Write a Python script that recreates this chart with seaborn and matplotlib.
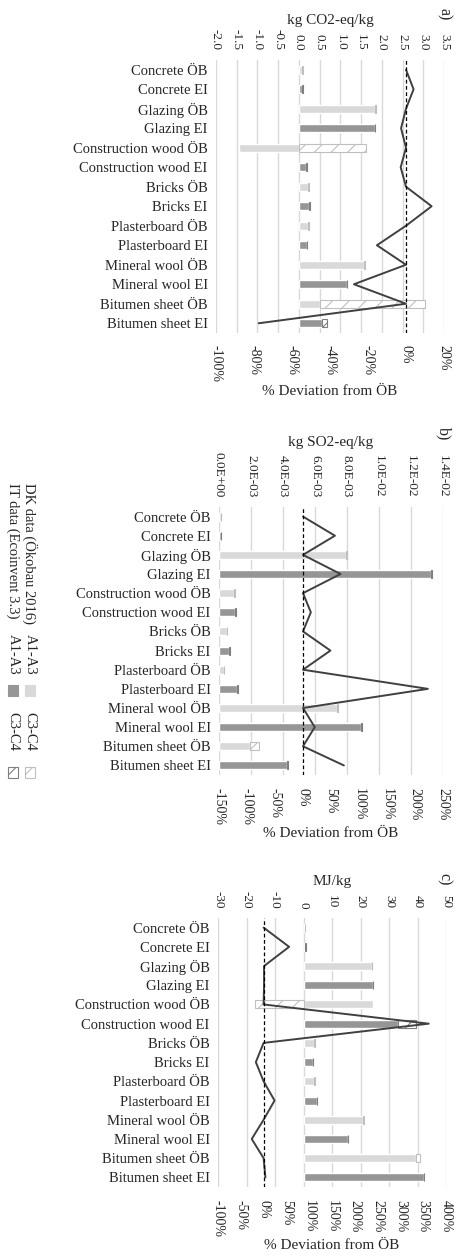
import numpy as np
import pandas as pd
import matplotlib
matplotlib.use("Agg")
import matplotlib.pyplot as plt
from matplotlib.patches import Rectangle
import seaborn as sns

# ---- data -------------------------------------------------------------
labels = ["Concrete ÖB", "Concrete EI", "Glazing ÖB", "Glazing EI",
          "Construction wood ÖB", "Construction wood EI", "Bricks ÖB", "Bricks EI",
          "Plasterboard ÖB", "Plasterboard EI", "Mineral wool ÖB", "Mineral wool EI",
          "Bitumen sheet ÖB", "Bitumen sheet EI"]
source = ["DK", "IT"] * 7

# a) GWP, kg CO2-eq/kg
gwp_a13 = [0.08, 0.08, 1.84, 1.83, -1.45, 0.18, 0.23, 0.25, 0.23, 0.19, 1.57, 1.15, 0.51, 0.55]
gwp_c34 = [0.01, 0.01, 0.03, 0.01, 1.63, 0.01, 0.01, 0.01, 0.01, 0.01, 0.02, 0.01, 2.52, 0.12]
gwp_dev = [0, 4, 0, -2.6, 0, -2.8, 0, 13.5, 0, -15.3, 0, -27.4, 0, -77.5]

# b) AP, kg SO2-eq/kg
ap_a13 = [0.10e-3, 0.14e-3, 7.92e-3, 13.25e-3, 0.96e-3, 0.98e-3, 0.48e-3, 0.64e-3,
          0.33e-3, 1.12e-3, 7.40e-3, 8.90e-3, 1.93e-3, 4.25e-3]
ap_c34 = [0.01e-3, 0.01e-3, 0.05e-3, 0.05e-3, 0.01e-3, 0.08e-3, 0.01e-3, 0.05e-3,
          0.01e-3, 0.05e-3, 0.05e-3, 0.05e-3, 0.58e-3, 0.05e-3]
ap_dev = [0, 57, 0, 67, 0, 14, 0, 49, 0, 223, 0, 21, 0, 73]

# c) PED, MJ/kg
ped_a13 = [0.5, 0.7, 24.0, 24.5, 24.4, 33.3, 3.8, 3.2, 3.8, 4.6, 21.0, 15.5, 39.4, 42.4]
ped_c34 = [0.05, 0.05, 0.2, 0.05, -17.1, 6.0, 0.1, 0.05, 0.1, 0.1, 0.4, 0.05, 1.4, 0.05]
ped_dev = [0, 56, 1, 1, 0, 362, 0, -17, 0, 24, 0, -26, 0, 4]

# ---- style ------------------------------------------------------------
sns.set_theme(style="white")
plt.rcParams["font.family"] = ["Liberation Serif", "DejaVu Serif"]
plt.rcParams["axes.unicode_minus"] = False
plt.rcParams["hatch.linewidth"] = 0.8

LIGHT, DARK = "#d9d9d9", "#969696"
EDGE = {"DK": "#bfbfbf", "IT": "#7f7f7f"}
W, H = 458, 1258

fig = plt.figure(figsize=(W / 100, H / 100), dpi=100)


def panel(box, a13, c34, dev, unit, top_ticks, top_fmt, bot_ticks, tag, tag_y):
    left, top, right, bottom = box
    ax = fig.add_axes([left / W, 1 - bottom / H, (right - left) / W, (bottom - top) / H])

    df = pd.DataFrame({"label": labels, "value": a13, "source": source})
    sns.barplot(data=df, x="value", y="label", hue="source",
                palette={"DK": LIGHT, "IT": DARK}, dodge=False, width=0.42,
                saturation=1, errorbar=None, legend=False, ax=ax)

    # C3-C4 stacked on top of A1-A3 (same sign) or from zero
    a = np.array(a13)
    c = np.array(c34)
    start = np.where(np.sign(a) == np.sign(c), a, 0)
    ax.barh(np.arange(len(labels)), c, left=start, height=0.42, color="white",
            edgecolor=[EDGE[s] for s in source], hatch="//", linewidth=0.8)

    ax2 = ax.twiny()
    sns.lineplot(x=dev, y=np.arange(len(labels)), sort=False, estimator=None,
                 orient="y", color="#404040", linewidth=1.4, ax=ax2)
    ax2.axvline(0, color="black", linestyle=(0, (3, 2)), linewidth=0.9)

    # top axis: absolute values
    ax.xaxis.tick_top()
    ax.xaxis.set_label_position("top")
    ax.set_xlim(top_ticks[0], top_ticks[-1])
    ax.set_xticks(top_ticks)
    ax.set_xticklabels([top_fmt(v) for v in top_ticks], rotation=-90, fontsize=9.5)
    ax.set_xlabel(unit, fontsize=11, labelpad=4)
    ax.tick_params(axis="x", length=0, pad=7)
    ax.tick_params(axis="y", length=0, pad=6, labelsize=10.5)
    ax.set_ylabel("")
    ax.grid(axis="x", color="#d9d9d9", linewidth=1)
    ax.set_axisbelow(True)

    # bottom axis: % deviation
    ax2.xaxis.tick_bottom()
    ax2.xaxis.set_label_position("bottom")
    ax2.set_xlim(bot_ticks[0], bot_ticks[-1])
    ax2.set_xticks(bot_ticks)
    ax2.set_xticklabels([f"{int(v)}%" for v in bot_ticks], rotation=-90, fontsize=10)
    ax2.set_xlabel("% Deviation from ÖB", fontsize=11, labelpad=2)
    ax2.tick_params(axis="x", length=0, pad=9)
    ax2.grid(False)

    for a_ in (ax, ax2):
        for sp in a_.spines.values():
            sp.set_visible(False)
    ax.set_ylim(len(labels) - 0.5, -0.5)

    fig.text(444 / W, 1 - tag_y / H, tag, rotation=-90,
             fontsize=11.5, ha="center", va="center")


panel((216, 60, 444, 333), gwp_a13, gwp_c34, gwp_dev, "kg CO2-eq/kg",
      np.arange(-2.0, 3.51, 0.5), lambda v: f"{v:.1f}",
      np.arange(-100, 21, 20), "a)", 14)
panel((219, 507, 443, 775), ap_a13, ap_c34, ap_dev, "kg SO2-eq/kg",
      np.arange(0, 0.01401, 0.002), lambda v: f"{v:.1E}",
      np.arange(-150, 251, 50), "b)", 434)
panel((218, 918, 446, 1187), ped_a13, ped_c34, ped_dev, "MJ/kg",
      np.arange(-30, 51, 10), lambda v: f"{int(round(v))}",
      np.arange(-100, 401, 50), "c)", 879)

# ---- legend (rotated, left side) --------------------------------------
def ftext(x, y, s):
    fig.text(x / W, 1 - y / H, s, rotation=-90, fontsize=10.5, ha="center", va="top")


def fbox(x, y, face, edge=None, hatch=None):
    fig.add_artist(Rectangle((x / W, 1 - (y + 11) / H), 10 / W, 11 / H,
                             transform=fig.transFigure, facecolor=face,
                             edgecolor=edge if edge else face, hatch=hatch,
                             linewidth=0.8))


for xc, name, col, src in [(30, "DK data (Ökobau 2016)", LIGHT, "DK"),
                           (13, "IT data (Ecoinvent 3.3)", DARK, "IT")]:
    ftext(xc, 483, name)
    ftext(xc, 634, "A1-A3")
    fbox(xc - 5, 685, col)
    ftext(xc, 712, "C3-C4")
    fbox(xc - 5, 767, "white", EDGE[src], "//")

fig.savefig("out.png", dpi=100)
